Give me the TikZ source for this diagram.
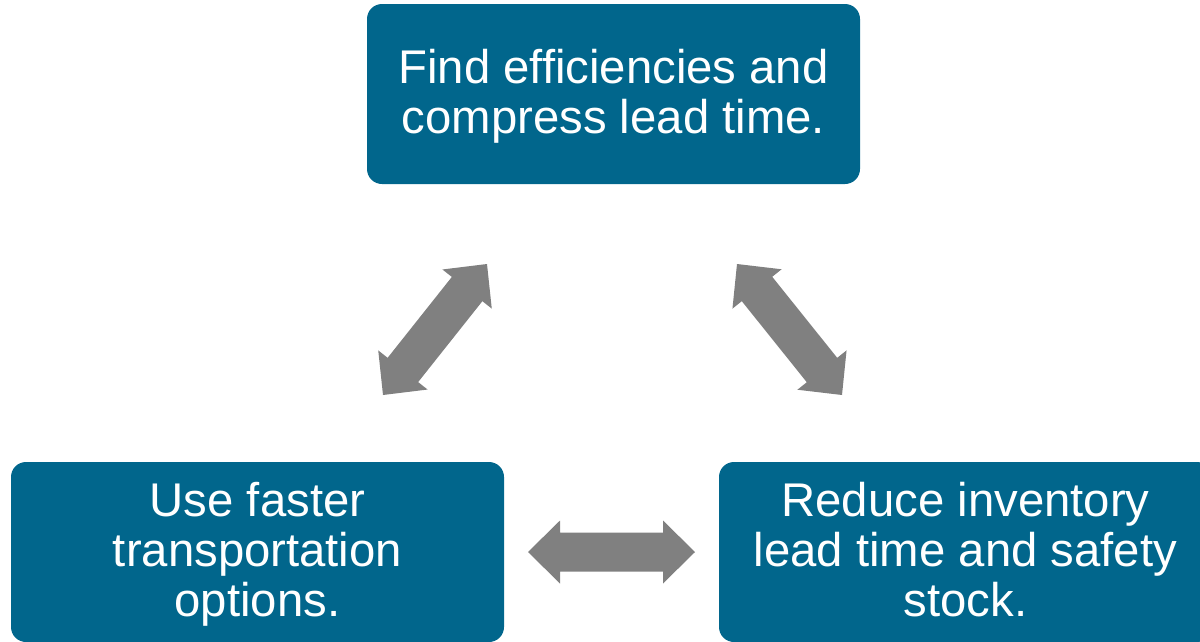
\documentclass[tikz,border=0pt]{standalone}
\usepackage{fontspec}
\setmainfont{Liberation Sans}
\usetikzlibrary{calc}
\definecolor{boxblue}{RGB}{1,102,140}
\definecolor{arrowgray}{RGB}{128,128,128}
\newcommand\firststrut{\rule{0pt}{40pt}}
\newcommand\laststrut{\rule[-11pt]{0pt}{11pt}}
\tikzset{
  stepbox/.style={rectangle, rounded corners=15pt, fill=boxblue, text=white,
    minimum width=493pt, minimum height=180pt, inner sep=0pt, align=center,
    font=\fontsize{47.3}{50}\selectfont},
  blockarrow/.style={fill=arrowgray, draw=none}
}
% double block arrow between two named coordinates
\newcommand\dblarrow[2]{%
  \path[blockarrow] (#1)
    -- ($(#1)!32pt!(#2)!31.5pt!90:(#2)$)
    -- ($(#1)!32pt!(#2)!19.5pt!90:(#2)$)
    -- ($(#2)!32pt!(#1)!19.5pt!-90:(#1)$)
    -- ($(#2)!32pt!(#1)!31.5pt!-90:(#1)$)
    -- (#2)
    -- ($(#2)!32pt!(#1)!31.5pt!90:(#1)$)
    -- ($(#2)!32pt!(#1)!19.5pt!90:(#1)$)
    -- ($(#1)!32pt!(#2)!19.5pt!-90:(#2)$)
    -- ($(#1)!32pt!(#2)!31.5pt!-90:(#2)$)
    -- cycle;}
\begin{document}
\begin{tikzpicture}[x=1pt, y=-1pt]
  \useasboundingbox (0,0) rectangle (1200,641);
  \clip (0,0) rectangle (1200,641);
  \node[stepbox] (find) at (613.5,94)
    {\firststrut Find efficiencies and\\compress lead time.\laststrut};
  \node[stepbox] (use) at (257.5,552)
    {\firststrut Use faster\\transportation\\options.\laststrut};
  \node[stepbox] (reduce) at (965.5,552)
    {\firststrut Reduce inventory\\lead time and safety\\stock.\laststrut};
  \coordinate (l1) at (383,395);
  \coordinate (l2) at (487,264);
  \coordinate (r1) at (737,264);
  \coordinate (r2) at (842,395);
  \coordinate (h1) at (528,552);
  \coordinate (h2) at (695,552);
  \dblarrow{l1}{l2}
  \dblarrow{r1}{r2}
  \dblarrow{h1}{h2}
\end{tikzpicture}
\end{document}
